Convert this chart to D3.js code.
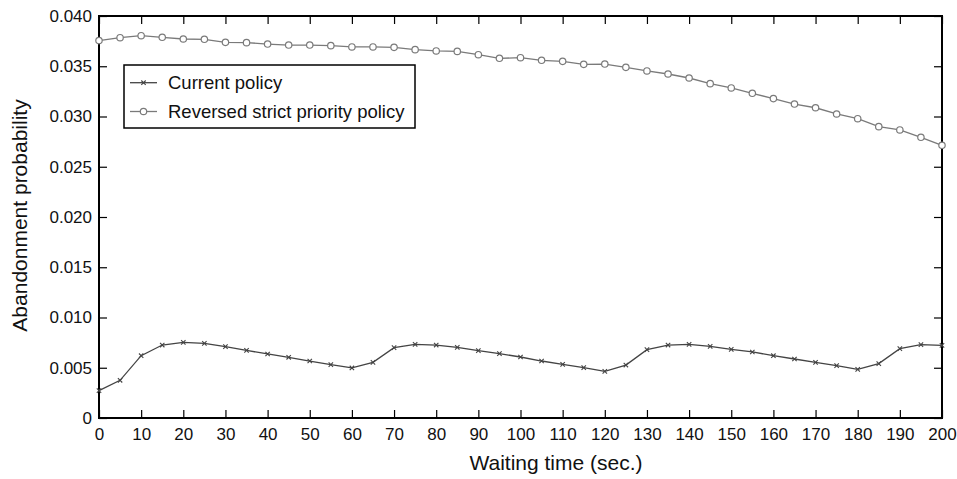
<!DOCTYPE html>
<html><head><meta charset="utf-8">
<script src="https://cdn.jsdelivr.net/npm/d3@7"></script>
<style>body{margin:0;background:#fff}svg{display:block}text{font-family:"Liberation Sans",Arial,sans-serif;fill:#111}</style>
</head><body><svg id="c" width="957" height="479"></svg>
<script>
const waitingTimes = d3.range(0, 201, 5);
const currentPolicy = [0.00272,0.00375,0.00620,0.00726,0.00753,0.00743,0.00710,0.00673,0.00637,0.00604,0.00567,0.00531,0.00498,0.00554,
 0.00700,0.00733,0.00726,0.00703,0.00670,0.00640,0.00607,0.00567,0.00534,0.00501,0.00464,0.00527,0.00680,0.00726,
 0.00733,0.00713,0.00683,0.00657,0.00620,0.00587,0.00553,0.00521,0.00484,0.00541,0.00690,0.00730,0.00723];
const reversedPolicy = [0.03755,0.03784,0.03804,0.03788,0.03771,0.03768,0.03738,0.03735,0.03721,0.03711,0.03711,0.03705,0.03692,0.03692,
 0.03688,0.03665,0.03652,0.03648,0.03615,0.03579,0.03585,0.03559,0.03549,0.03519,0.03522,0.03489,0.03453,0.03423,
 0.03383,0.03327,0.03284,0.03231,0.03178,0.03124,0.03087,0.03025,0.02978,0.02899,0.02866,0.02793,0.02713];
const xTicks = d3.range(0, 201, 10);
const yTicks = [0,0.005,0.010,0.015,0.020,0.025,0.030,0.035,0.040];
const yTickLabels = ["0","0.005","0.010","0.015","0.020","0.025","0.030","0.035","0.040"];
const seriesNames = ["Current policy","Reversed strict priority policy"];

const svg = d3.select("#c");
const L=99, R=942, T=16, B=418;
const x = d3.scaleLinear().domain([0,200]).range([L,R]);
const y = d3.scaleLinear().domain([0,0.04]).range([B,T]);
const tl = 8;

// ticks inward
const gx = svg.append("g").attr("transform",`translate(0,${B})`)
  .call(d3.axisBottom(x).tickValues(xTicks).tickSizeInner(-tl).tickSizeOuter(0).tickPadding(10).tickFormat(d3.format("d")));
const gxt = svg.append("g").attr("transform",`translate(0,${T})`)
  .call(d3.axisTop(x).tickValues(xTicks).tickSizeInner(-tl).tickSizeOuter(0).tickFormat(""));
const gy = svg.append("g").attr("transform",`translate(${L},0)`)
  .call(d3.axisLeft(y).tickValues(yTicks).tickSizeInner(-tl).tickSizeOuter(0).tickPadding(7).tickFormat((d,i)=>yTickLabels[i]));
const gyr = svg.append("g").attr("transform",`translate(${R},0)`)
  .call(d3.axisRight(y).tickValues(yTicks).tickSizeInner(-tl).tickSizeOuter(0).tickFormat(""));
[gx,gxt,gy,gyr].forEach(g=>{
  g.select(".domain").remove();
  g.selectAll(".tick line").attr("stroke","#000").attr("stroke-width",1.2);
  g.selectAll(".tick text").style("font-size","17px").attr("fill","#111").style("font-family",'"Liberation Sans",Arial,sans-serif');
});
svg.append("rect").attr("x",L).attr("y",T).attr("width",R-L).attr("height",B-T)
  .attr("fill","none").attr("stroke","#000").attr("stroke-width",2);

// series
const line = d3.line().x((d,i)=>x(waitingTimes[i])).y(d=>y(d));
svg.append("path").datum(reversedPolicy).attr("d",line).attr("fill","none").attr("stroke","#7a7a7a").attr("stroke-width",1.3);
svg.append("g").selectAll("circle").data(reversedPolicy).join("circle")
  .attr("cx",(d,i)=>x(waitingTimes[i])).attr("cy",d=>y(d)).attr("r",3.2)
  .attr("fill","#fff").attr("stroke","#7a7a7a").attr("stroke-width",1.2);
svg.append("path").datum(currentPolicy).attr("d",line).attr("fill","none").attr("stroke","#444").attr("stroke-width",1.3);
const cross = (g,cx,cy,s)=>g.append("path").attr("d",`M${cx-s},${cy-s}L${cx+s},${cy+s}M${cx-s},${cy+s}L${cx+s},${cy-s}`)
  .attr("stroke","#444").attr("stroke-width",1.1).attr("fill","none");
const cg = svg.append("g");
currentPolicy.forEach((d,i)=>cross(cg,x(waitingTimes[i]),y(d),2.2));

// axis titles
svg.append("text").attr("x",556).attr("y",470).attr("text-anchor","middle").style("font-size","21px").text("Waiting time (sec.)");
svg.append("text").attr("transform","translate(27,215.5) rotate(-90)").attr("text-anchor","middle").style("font-size","21px").text("Abandonment probability");

// legend
const lg = svg.append("g");
lg.append("rect").attr("x",124).attr("y",65).attr("width",291).attr("height",63).attr("fill","#fff").attr("stroke","#000").attr("stroke-width",1.5);
const ly = [82.7,111.5];
lg.append("line").attr("x1",130).attr("x2",157).attr("y1",ly[0]).attr("y2",ly[0]).attr("stroke","#444").attr("stroke-width",1.3);
cross(lg,143.5,ly[0],2.2);
lg.append("line").attr("x1",130).attr("x2",157).attr("y1",ly[1]).attr("y2",ly[1]).attr("stroke","#7a7a7a").attr("stroke-width",1.3);
lg.append("circle").attr("cx",143.5).attr("cy",ly[1]).attr("r",3.2).attr("fill","#fff").attr("stroke","#7a7a7a").attr("stroke-width",1.2);
seriesNames.forEach((n,i)=>lg.append("text").attr("x",168).attr("y",ly[i]+6.6).style("font-size","18.5px").text(n));
</script></body></html>
